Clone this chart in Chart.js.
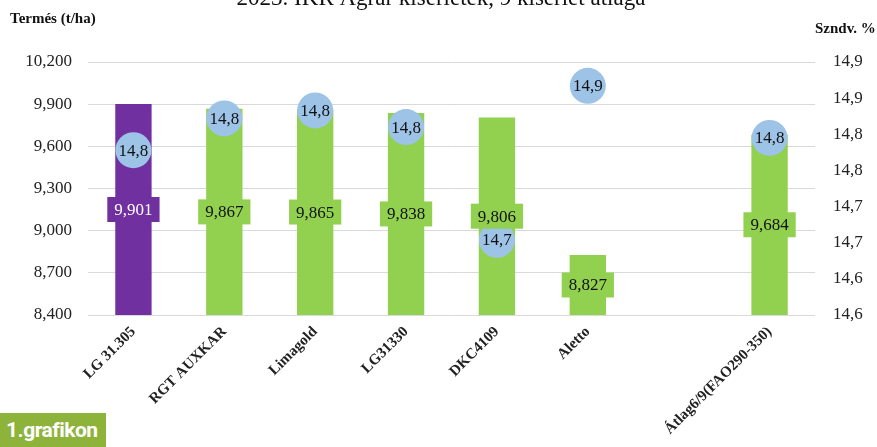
<!DOCTYPE html>
<html lang="hu">
<head>
    <meta charset="UTF-8">
    <title>1.grafikon</title>
    <script src="https://cdn.jsdelivr.net/npm/chart.js@4.4.0/dist/chart.umd.min.js"></script>
    <style>
        body {
            margin: 0;
            padding: 0;
            background: #ffffff;
            overflow: hidden;
        }
        .wrap {
            position: relative;
            width: 877px;
            height: 447px;
        }
        .badge {
            position: absolute;
            left: 0;
            top: 413px;
            width: 106px;
            height: 34px;
            background: #8db33a;
            color: #ffffff;
            font-family: Roboto, 'Open Sans', sans-serif;
            font-weight: 700;
            font-size: 21px;
            line-height: 34px;
            padding-left: 6px;
            box-sizing: border-box;
            letter-spacing: -0.5px;
        }
    </style>
</head>
<body>
    <div class="wrap">
        <canvas id="chart"></canvas>
        <div class="badge">1.grafikon</div>
    </div>

    <script>
        // Adatok
        const fajtak = ['LG 31.305', 'RGT AUXKAR', 'Limagold', 'LG31330', 'DKC4109', 'Aletto', '', 'Átlag6/9(FAO290-350)'];
        const termes = [9901, 9867, 9865, 9838, 9806, 8827, null, 9684];
        const szarazanyag = [14.778, 14.822, 14.833, 14.81, 14.654, 14.867, null, 14.795];
        const bal_tengely = [8400, 8700, 9000, 9300, 9600, 9900, 10200];
        const jobb_tengely = [14.55, 14.6, 14.65, 14.7, 14.75, 14.8, 14.85, 14.9];

        const lila = '#7030a0';
        const zold = '#92d050';
        const kek = '#9dc3e6';
        const serif = "'Liberation Serif', 'Times New Roman', serif";

        const fmtTermes = v => v.toLocaleString('en-US');
        const fmtSzaz = v => (v + 1e-9).toFixed(1).replace('.', ',');

        const barColors = fajtak.map((f, i) => i === 0 ? lila : zold);

        // címkék, tengelycímek, főcím
        const feliratok = {
            id: 'feliratok',
            afterDatasetsDraw(chart) {
                const ctx = chart.ctx;
                ctx.save();
                ctx.font = '17px ' + serif;
                ctx.textAlign = 'center';
                ctx.textBaseline = 'middle';

                // oszlop címkék dobozban
                const barMeta = chart.getDatasetMeta(0);
                barMeta.data.forEach((bar, i) => {
                    if (termes[i] == null) return;
                    const txt = fmtTermes(termes[i]);
                    const w = ctx.measureText(txt).width + 14;
                    const h = 25;
                    const y = (bar.y + bar.base) / 2;
                    ctx.fillStyle = barColors[i];
                    ctx.fillRect(bar.x - w / 2, y - h / 2, w, h);
                    ctx.fillStyle = i === 0 ? '#ffffff' : '#111111';
                    ctx.fillText(txt, bar.x, y + 1);
                });

                // körök címkéi
                const pontMeta = chart.getDatasetMeta(1);
                ctx.fillStyle = '#111111';
                pontMeta.data.forEach((pt, i) => {
                    if (szarazanyag[i] == null) return;
                    ctx.fillText(fmtSzaz(szarazanyag[i]), pt.x, pt.y + 1);
                });

                // főcím (felül levágva)
                ctx.font = '23px ' + serif;
                ctx.textBaseline = 'alphabetic';
                ctx.fillText('2023. IKR Agrár kísérletek, 9 kísérlet átlaga', 441, 5);

                // tengelycímek
                ctx.font = 'bold 15px ' + serif;
                ctx.textAlign = 'left';
                ctx.fillText('Termés (t/ha)', 10, 23);
                ctx.fillText('Szndv. %', 815, 33);
                ctx.restore();
            }
        };

        new Chart(document.getElementById('chart'), {
            data: {
                labels: fajtak,
                datasets: [{
                    type: 'bar',
                    data: termes.map(v => v == null ? null : [8400, v]),
                    backgroundColor: barColors,
                    borderWidth: 0,
                    barPercentage: 0.4,
                    categoryPercentage: 1,
                    yAxisID: 'y',
                    order: 1
                }, {
                    type: 'line',
                    data: szarazanyag,
                    showLine: false,
                    pointRadius: 18,
                    pointHoverRadius: 18,
                    pointBackgroundColor: kek,
                    pointBorderWidth: 0,
                    pointBorderColor: kek,
                    yAxisID: 'y1',
                    order: 0
                }]
            },
            options: {
                responsive: true,
                maintainAspectRatio: false,
                animation: false,
                layout: { padding: { top: 62, left: 0, right: 0, bottom: 0 } },
                plugins: {
                    legend: { display: false },
                    tooltip: { enabled: false },
                    title: { display: false }
                },
                scales: {
                    x: {
                        grid: { display: false, drawTicks: false },
                        border: { display: false },
                        ticks: {
                            autoSkip: false,
                            maxRotation: 45,
                            minRotation: 45,
                            padding: 8,
                            color: '#222222',
                            font: { family: serif, size: 15, weight: 'bold' }
                        },
                        afterFit(scale) { scale.height = 132; }
                    },
                    y: {
                        position: 'left',
                        min: 8400,
                        max: 10200,
                        afterBuildTicks(scale) { scale.ticks = bal_tengely.map(v => ({ value: v })); },
                        grid: { color: '#d9d9d9', drawTicks: false },
                        border: { display: false },
                        ticks: {
                            padding: 16,
                            color: '#222222',
                            font: { family: serif, size: 17 },
                            callback: v => fmtTermes(v)
                        },
                        afterFit(scale) { scale.width = 88; }
                    },
                    y1: {
                        position: 'right',
                        min: 14.55,
                        max: 14.9,
                        afterBuildTicks(scale) { scale.ticks = jobb_tengely.map(v => ({ value: v })); },
                        grid: { drawOnChartArea: false, drawTicks: false },
                        border: { display: false },
                        ticks: {
                            padding: 18,
                            color: '#222222',
                            font: { family: serif, size: 17 },
                            callback: v => fmtSzaz(v)
                        },
                        afterFit(scale) { scale.width = 62; }
                    }
                }
            },
            plugins: [feliratok]
        });
    </script>
</body>
</html>
